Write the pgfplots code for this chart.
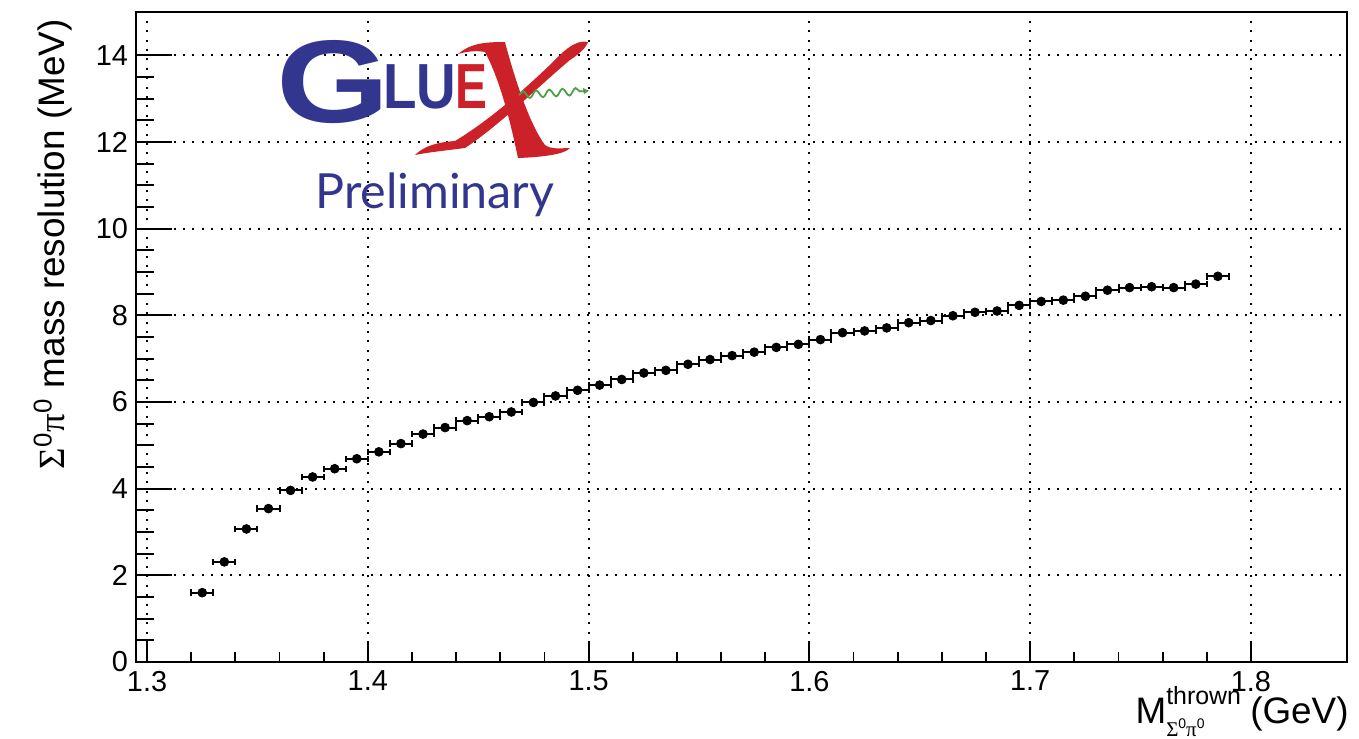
\documentclass[border=0pt]{standalone}
\usepackage{pgfplots}
\pgfplotsset{compat=1.18}
\usepackage{fontspec}
\setmainfont{Liberation Sans}
\newfontfamily\logofont{Lato}
\newfontfamily\symfont{Liberation Serif}
\usetikzlibrary{decorations.pathmorphing, arrows.meta}

\definecolor{gxblue}{RGB}{50,54,142}
\definecolor{gxred}{RGB}{205,33,41}
\definecolor{gxgreen}{RGB}{76,160,72}

% resolution per thrown-mass bin (bin width 10 MeV)
\pgfplotstableread{
x      y
1.325  1.60
1.335  2.31
1.345  3.07
1.355  3.54
1.365  3.96
1.375  4.27
1.385  4.46
1.395  4.69
1.405  4.85
1.415  5.04
1.425  5.26
1.435  5.41
1.445  5.57
1.455  5.66
1.465  5.77
1.475  5.99
1.485  6.14
1.495  6.27
1.505  6.39
1.515  6.52
1.525  6.67
1.535  6.73
1.545  6.87
1.555  6.98
1.565  7.07
1.575  7.15
1.585  7.26
1.595  7.33
1.605  7.44
1.615  7.60
1.625  7.64
1.635  7.71
1.645  7.83
1.655  7.88
1.665  7.99
1.675  8.07
1.685  8.10
1.695  8.23
1.705  8.32
1.715  8.35
1.725  8.44
1.735  8.58
1.745  8.64
1.755  8.66
1.765  8.64
1.775  8.72
1.785  8.90
}\restable

\begin{document}
\begin{tikzpicture}
\path[use as bounding box] (-68bp,-38.5bp) rectangle (611.5bp,331bp);
\begin{axis}[
  scale only axis,
  width=605.5bp, height=325bp,
  xmin=1.295, xmax=1.8435, ymin=0, ymax=15,
  xtick={1.3,1.4,1.5,1.6,1.7,1.8},
  ytick={0,2,4,6,8,10,12,14},
  minor x tick num=4, minor y tick num=3,
  tick align=inside,
  xtick pos=left, ytick pos=left,
  xtick style={/pgfplots/major tick length=9.75bp, /pgfplots/minor tick length=5bp, line width=0.9bp, black},
  ytick style={/pgfplots/major tick length=18bp, /pgfplots/minor tick length=9bp, line width=0.9bp, black},
  grid=major,
  major grid style={black, line width=1bp, dash pattern=on 1bp off 3.7bp},
  axis line style={line width=0.9bp},
  /pgf/number format/assume math mode=true,
  xticklabel style={font=\fontsize{14.5}{17}\selectfont, /pgf/number format/fixed, /pgf/number format/precision=1, yshift=-1bp},
  yticklabel style={font=\fontsize{14.5}{17}\selectfont, xshift=-0.5bp},
]
\addplot[black, only marks, mark=*, mark size=2.2bp,
  error bars/.cd, x dir=both, x fixed=0.005,
  error bar style={line width=1bp, black},
  error mark options={rotate=90, mark size=1.6bp, line width=1bp, black}]
  table[x=x, y=y] {\restable};
\end{axis}

\begin{scope}[x=0.5bp, y=-0.5bp, shift={(-136,-662)}]
  % axis titles
  \node[rotate=90, anchor=base east, inner sep=0, font=\fontsize{18.5}{21}\selectfont] at (64,19)
    {{\symfont Σ}\textsuperscript{0}{\symfont π}\textsuperscript{0} mass resolution (MeV)};
  \node[anchor=base east, inner sep=0, font=\fontsize{18.5}{21}\selectfont] at (1349,723)
    {M\makebox[0pt][l]{\raisebox{0.95ex}{\fontsize{12.5}{13}\selectfont thrown}}%
     \makebox[42bp][l]{\raisebox{-0.7ex}{\fontsize{10.5}{11}\selectfont{\symfont Σ}\raisebox{0.75ex}{\fontsize{7}{8}\selectfont 0}{\symfont π}\raisebox{0.75ex}{\fontsize{7}{8}\selectfont 0}}}%
     (GeV)};

  % collaboration logo
  \node[anchor=base west, inner sep=0, text=gxblue, font=\fontsize{59}{59}\selectfont\bfseries] at (276,122)
    {\scalebox{1.24}[1]{G}};
  \node[anchor=base west, inner sep=0, text=gxblue, font=\fontsize{32}{32}\selectfont\bfseries] at (383,108)
    {\scalebox{0.86}[1]{LU}};
  \node[anchor=base west, inner sep=0, text=gxred, font=\fontsize{32}{32}\selectfont\bfseries] at (455,108)
    {\scalebox{0.75}[1]{E}};
  \fill[gxred] (458,54) .. controls (470,44) and (482,42) .. (505,42)
     .. controls (515,80) and (530,125) .. (545,145)
     .. controls (552,150) and (562,148) .. (570,148)
     .. controls (565,154) and (545,157) .. (518,158)
     .. controls (510,120) and (500,80) .. (485,52)
     .. controls (475,50) and (465,52) .. (458,54) -- cycle;
  \fill[gxred] (415,155) .. controls (425,145) and (440,142) .. (455,141)
     .. controls (490,120) and (530,85) .. (560,55)
     .. controls (570,45) and (580,40) .. (588,42)
     .. controls (586,48) and (578,55) .. (570,60)
     .. controls (540,85) and (500,125) .. (465,148)
     .. controls (450,150) and (430,152) .. (415,155) -- cycle;
  \draw[gxgreen, line width=0.9bp, decorate,
        decoration={snake, amplitude=1.8bp, segment length=6.6bp, post length=2bp}]
     (519,95) -- (586,91);
  \fill[gxgreen] (589,90.8) -- (583,88) -- (584,94) -- cycle;
  \node[anchor=base west, inner sep=0, text=gxblue, font=\logofont\fontsize{24.3}{25}\selectfont] at (315,208)
    {Preliminary};
\end{scope}
\end{tikzpicture}
\end{document}
